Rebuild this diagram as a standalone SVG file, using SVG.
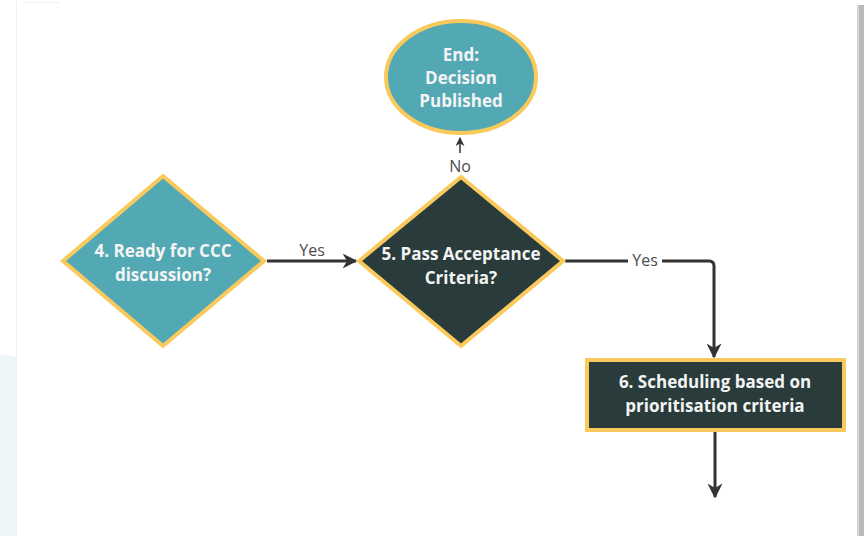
<svg xmlns="http://www.w3.org/2000/svg" width="864" height="536" viewBox="0 0 864 536">
  <defs>
    <style>
      .node { stroke: #f9c95c; stroke-width: 4; stroke-linejoin: miter; }
      .teal { fill: #52a9b4; }
      .dark { fill: #293c3b; }
      .lbl { font-family: "Open Sans", "Liberation Sans", sans-serif; font-weight: 700; font-size: 17px; fill: #f4f4f4; text-anchor: middle; }
      .edge { fill: none; stroke: #333333; stroke-width: 3; }
      .thin { fill: none; stroke: #333333; stroke-width: 1.5; }
      .elbl { font-family: "Open Sans", "Liberation Sans", sans-serif; font-size: 16px; fill: #4d4d4d; text-anchor: middle; }
    </style>
    <marker id="head" viewBox="0 0 10 10" refX="9" refY="5" markerWidth="5" markerHeight="5" orient="auto" markerUnits="strokeWidth">
      <path d="M0,0 L10,5 L0,10 L3,5 Z" fill="#333333"/>
    </marker>
    <marker id="headThin" viewBox="0 0 10 10" refX="9" refY="5" markerWidth="6" markerHeight="6" orient="auto" markerUnits="strokeWidth">
      <path d="M0,0 L10,5 L0,10 L3,5 Z" fill="#333333"/>
    </marker>
  </defs>

  <!-- page background -->
  <rect x="0" y="0" width="864" height="536" fill="#ffffff"/>
  <path d="M0,354 L16,357 L16,536 L0,536 Z" fill="#edf5f7"/>
  <line x1="16.5" y1="0" x2="16.5" y2="536" stroke="#f2f4f4" stroke-width="1"/>
  <line x1="22" y1="2.5" x2="60" y2="2.5" stroke="#f0f0f0" stroke-width="1"/>
  <rect x="857" y="5" width="7" height="531" fill="#b9b9b9"/>
  <rect x="857" y="5" width="2" height="531" fill="#d6d6d6"/>

  <!-- connectors -->
  <g id="connectors">
    <path class="edge" d="M267,261 L356,261" marker-end="url(#head)"/>
    <text class="elbl" x="312" y="256">Yes</text>

    <path class="edge" d="M565,261 L628,261"/>
    <path class="edge" d="M662,261 L709,261 Q714,261 714,266 L714,357" marker-end="url(#head)"/>
    <text class="elbl" x="645" y="266">Yes</text>

    <path class="thin" d="M460,153 L460,138" marker-end="url(#headThin)"/>
    <text class="elbl" x="460" y="172">No</text>

    <path class="edge" d="M715,432 L715,497" marker-end="url(#head)"/>
  </g>

  <!-- End: Decision Published -->
  <g id="node-end">
    <ellipse class="node teal" cx="461" cy="77" rx="75" ry="56"/>
    <text class="lbl" x="461" y="61">End:</text>
    <text class="lbl" x="461" y="84">Decision</text>
    <text class="lbl" x="461" y="107">Published</text>
  </g>

  <!-- 4. Ready for CCC discussion? -->
  <g id="node-4">
    <polygon class="node teal" points="163,176 264,261 163,346 63,261"/>
    <text class="lbl" x="163" y="257">4. Ready for CCC</text>
    <text class="lbl" x="163" y="281">discussion?</text>
  </g>

  <!-- 5. Pass Acceptance Criteria? -->
  <g id="node-5">
    <polygon class="node dark" points="461,177 563,261 461,346 359,261"/>
    <text class="lbl" x="461" y="260">5. Pass Acceptance</text>
    <text class="lbl" x="461" y="284">Criteria?</text>
  </g>

  <!-- 6. Scheduling based on prioritisation criteria -->
  <g id="node-6">
    <rect class="node dark" x="587" y="360" width="257" height="70"/>
    <text class="lbl" x="715" y="388">6. Scheduling based on</text>
    <text class="lbl" x="715" y="412">prioritisation criteria</text>
  </g>
</svg>
